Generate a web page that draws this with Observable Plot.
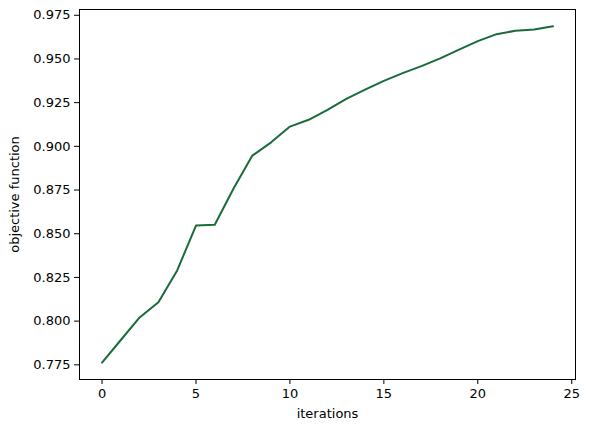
<!DOCTYPE html>
<html>
<head>
<meta charset="utf-8">
<script src="https://cdn.jsdelivr.net/npm/d3@7"></script>
<script src="https://cdn.jsdelivr.net/npm/@observablehq/plot@0.6"></script>
<style>
  html, body { margin: 0; padding: 0; background: #fff; }
</style>
</head>
<body>
<div id="chart"></div>
<script>
const iterations = [0,1,2,3,4,5,6,7,8,9,10,11,12,13,14,15,16,17,18,19,20,21,22,23,24];
const objective = [0.7763, 0.7892, 0.8021, 0.8108, 0.8290, 0.8547, 0.8551, 0.8759, 0.8947, 0.9023,
                   0.9113, 0.9152, 0.9209, 0.9272, 0.9324, 0.9375, 0.9419, 0.9459, 0.9503, 0.9553,
                   0.9602, 0.9642, 0.9661, 0.9668, 0.9687];
const xTicks = [0, 5, 10, 15, 20, 25];
const yTicks = [0.775, 0.800, 0.825, 0.850, 0.875, 0.900, 0.925, 0.950, 0.975];

const data = iterations.map((it, i) => ({iteration: it, value: objective[i]}));

const chart = Plot.plot({
  width: 589,
  height: 432,
  marginLeft: 79,
  marginRight: 14,
  marginTop: 9,
  marginBottom: 53,
  style: {fontFamily: "DejaVu Sans", fontSize: "13px", color: "#000", background: "#fff"},
  x: {domain: [-1.2, 25.2]},
  y: {domain: [0.7666, 0.9783]},
  marks: [
    Plot.axisX({ticks: xTicks, tickSize: 5, tickPadding: 4, tickFormat: d3.format("d"),
      label: "iterations", labelAnchor: "center", labelArrow: "none", labelOffset: 38, stroke: "#000", fill: "#000"}),
    Plot.axisY({ticks: yTicks, tickSize: 5, tickPadding: 4, tickFormat: d3.format(".3f"),
      label: "objective function", labelAnchor: "center", labelArrow: "none", labelOffset: 70, stroke: "#000", fill: "#000"}),
    Plot.line(data, {x: "iteration", y: "value", stroke: "#1a6b3a", strokeWidth: 2}),
    Plot.frame({stroke: "#000", strokeWidth: 1})
  ]
});
document.getElementById("chart").appendChild(chart);
</script>
</body>
</html>
